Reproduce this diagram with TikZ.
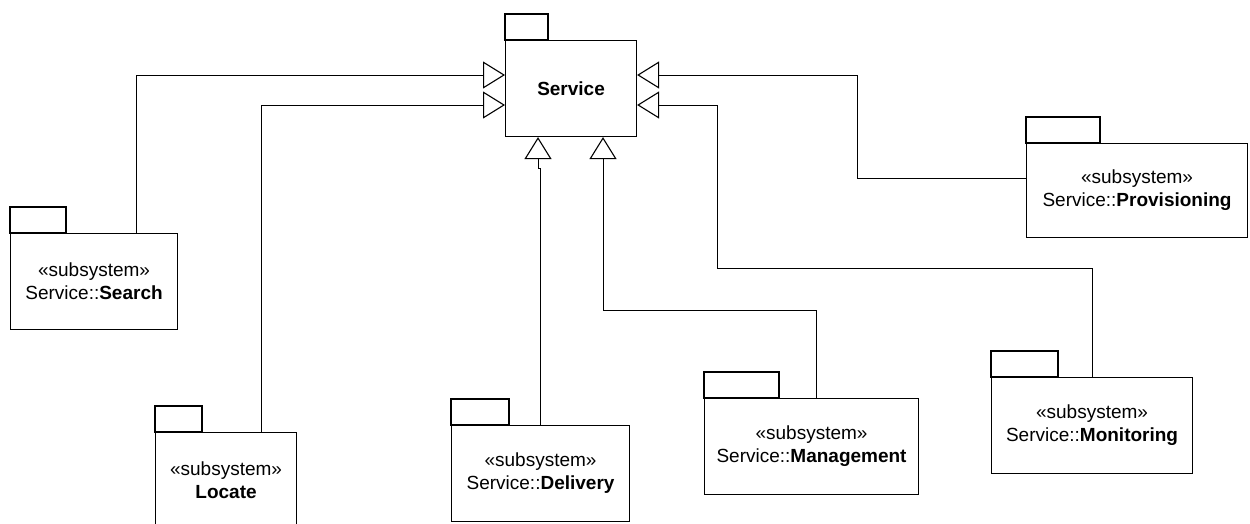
\documentclass[tikz,border=0pt]{standalone}
\usepackage{fontspec}
\setmainfont{Liberation Sans}
\usetikzlibrary{arrows.meta}

\tikzset{
  pkg/.style={draw, line width=1.1pt, fill=white, anchor=north west, inner sep=0pt,
              align=center, minimum height=96pt,
              font=\fontsize{19}{23}\selectfont},
  inh/.style={line width=0.9pt,
              -{Triangle[open, length=22pt, width=27pt, line width=1.1pt]}},
}

% draws the small tab on top of a package body
\newcommand{\pkgtab}[2]{%
  \draw[line width=1.1pt] (#1.north west) rectangle ++(#2,-26);}

\begin{document}
\begin{tikzpicture}[x=1pt, y=-1pt]
  \clip (0,0) rectangle (1250,524);
  \fill[white] (0,0) rectangle (1250,524);

  % packages
  \node[pkg, minimum width=131pt] (service) at (505,40) {\textbf{Service}};
  \pkgtab{service}{43}

  \node[pkg, minimum width=167pt] (search) at (10,233)
    {«subsystem»\\Service::\textbf{Search}};
  \pkgtab{search}{56}

  \node[pkg, minimum width=141pt] (locate) at (155,432)
    {«subsystem»\\\textbf{Locate}};
  \pkgtab{locate}{47}

  \node[pkg, minimum width=178pt] (delivery) at (451,425)
    {«subsystem»\\Service::\textbf{Delivery}};
  \pkgtab{delivery}{58}

  \node[pkg, minimum width=214pt] (management) at (704,398)
    {«subsystem»\\Service::\textbf{Management}};
  \pkgtab{management}{75}

  \node[pkg, minimum width=201pt] (monitoring) at (991,377)
    {«subsystem»\\Service::\textbf{Monitoring}};
  \pkgtab{monitoring}{67}

  \node[pkg, minimum width=221pt, minimum height=94pt] (provisioning) at (1026,143)
    {«subsystem»\\Service::\textbf{Provisioning}};
  \pkgtab{provisioning}{74}

  % generalizations towards Service
  \draw[inh] ([xshift=126pt]search.north west) |- ([yshift=-35pt]service.north west);
  \draw[inh] ([xshift=106pt]locate.north west) |- ([yshift=-65pt]service.north west);
  \draw[inh] ([xshift=89pt]delivery.north west) -- ++(0,-257)
             -| ([xshift=33pt]service.south west);
  \draw[inh] ([xshift=112pt]management.north west) -- ++(0,-88)
             -| ([xshift=98pt]service.south west);
  \draw[inh] ([xshift=101pt]monitoring.north west) -- ++(0,-109) -- ++(-375,0)
             |- ([yshift=-65pt]service.north east);
  \draw[inh] ([yshift=-35pt]provisioning.north west) -- ++(-169,0)
             |- ([yshift=-35pt]service.north east);
\end{tikzpicture}
\end{document}
